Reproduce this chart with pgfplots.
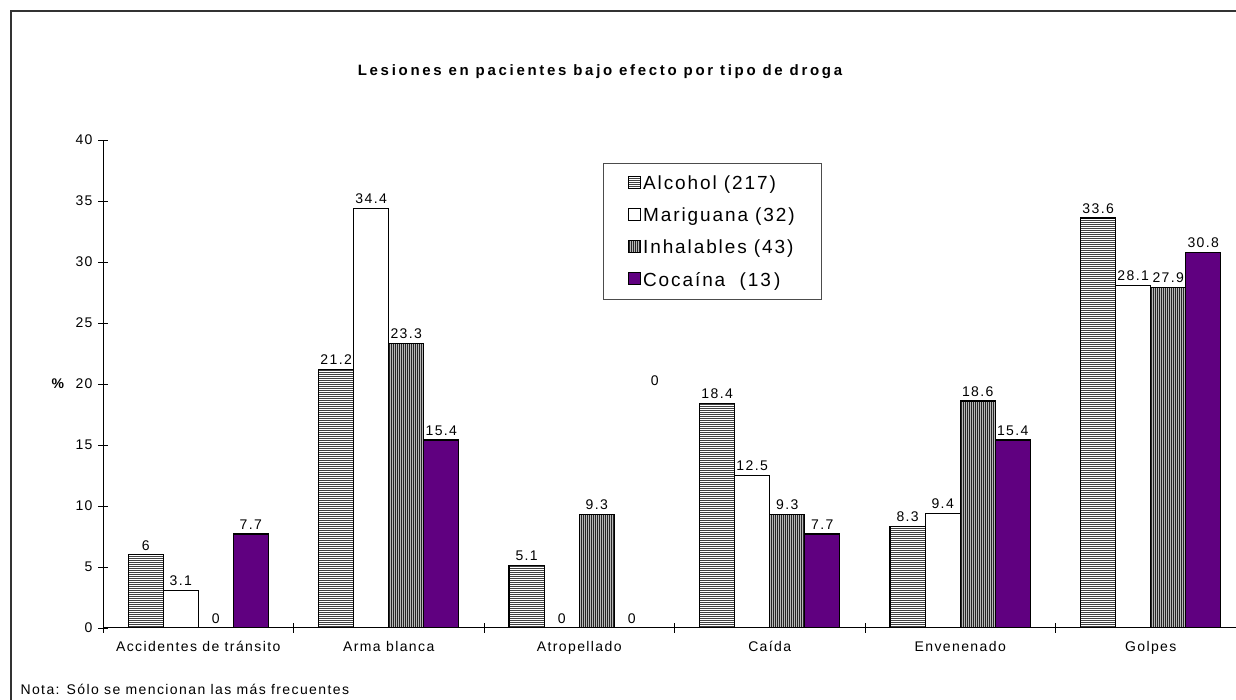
\documentclass[border=0pt]{standalone}
\usepackage{fontspec}
\setmainfont{Liberation Sans}[LetterSpace=10]
\newfontfamily\titlefont{Liberation Sans}[LetterSpace=18]
\usepackage{pgfplots}
\pgfplotsset{compat=1.18}
\usetikzlibrary{patterns.meta}

\definecolor{cocaina}{RGB}{96,0,128}
\newcommand{\lbl}{\fontsize{14}{16}\selectfont}

\begin{document}
\begin{tikzpicture}
\useasboundingbox (0pt,0pt) rectangle (1236pt,700pt);
% marco exterior (solo se ven arriba e izquierda)
\draw[line width=2pt, black!80] (11pt,0pt) -- (11pt,689pt) -- (1236pt,689pt);

\node[font=\titlefont\bfseries\fontsize{15}{18}\selectfont] at (600pt,628pt)
  {Lesiones en pacientes bajo efecto por tipo de droga};
\node[anchor=base west, font=\lbl] at (17pt,5pt)
  {Nota: Sólo se mencionan las más frecuentes};

\begin{axis}[
    at={(198.25pt,72pt)}, anchor=origin,
    scale only axis, width=1143pt, height=488pt,
    ybar, bar width=0.184,
    xmin=-0.5, xmax=5.5, ymin=0, ymax=40,
    xtick={-0.5,0.5,...,5.5},
    x tick label as interval,
    xticklabels={Accidentes de tránsito, Arma blanca, Atropellado, Caída, Envenenado, Golpes},
    xticklabel style={yshift=-5pt},
    ytick={0,5,...,40},
    yticklabel style={xshift=-2pt},
    axis x line*=bottom, axis y line*=left,
    axis line style={-, line width=1pt},
    tick align=center, major tick length=10pt,
    tick style={line width=0.8pt, black},
    ticklabel style={font=\lbl},
    /pgf/number format/assume math mode=true,
    ylabel={\textbf{\%}},
    ylabel style={rotate=-90, at={(axis description cs:0,0.5)}, anchor=east, xshift=-34pt, font=\lbl},
    nodes near coords,
    every node near coord/.append style={font=\lbl, black, inner sep=4pt},
    legend style={at={(axis description cs:0.4374,0.953)}, anchor=north west,
        draw=black!70, line width=0.8pt, font=\fontsize{19}{22}\selectfont,
        inner xsep=25pt, inner ysep=10pt, row sep=13pt},
    legend cell align=left,
    legend image code/.code={\draw[#1, line width=0.8pt] (0pt,-5pt) rectangle (12pt,7pt);},
]
\addplot[bar shift=-0.276, draw=black, line width=1.3pt, fill=white,
  postaction={pattern={Lines[angle=0,distance=2pt,line width=0.9pt]}, pattern color=black!75}]
  coordinates {(0,6) (1,21.2) (2,5.1) (3,18.4) (4,8.3) (5,33.6)};
\addlegendentry{Alcohol (217)}
\addplot[bar shift=-0.092, draw=black, line width=1.3pt, fill=white]
  coordinates {(0,3.1) (1,34.4) (2,0) (3,12.5) (4,9.4) (5,28.1)};
\addlegendentry{Mariguana (32)}
\addplot[bar shift=0.092, draw=black, line width=1.3pt, fill=black!85,
  postaction={pattern={Lines[angle=90,distance=2pt,line width=0.4pt]}, pattern color=gray!55}]
  coordinates {(0,0) (1,23.3) (2,9.3) (3,9.3) (4,18.6) (5,27.9)};
\addlegendentry{Inhalables (43)}
\addplot[bar shift=0.276, draw=black, line width=1.3pt, fill=cocaina]
  coordinates {(0,7.7) (1,15.4) (2,0) (3,7.7) (4,15.4) (5,30.8)};
\addlegendentry{Cocaína\ \ (13\,)}
% etiqueta suelta que aparece en el original
\node[font=\lbl] at (axis cs:2.397,20.3) {0};
\end{axis}
\end{tikzpicture}
\end{document}
